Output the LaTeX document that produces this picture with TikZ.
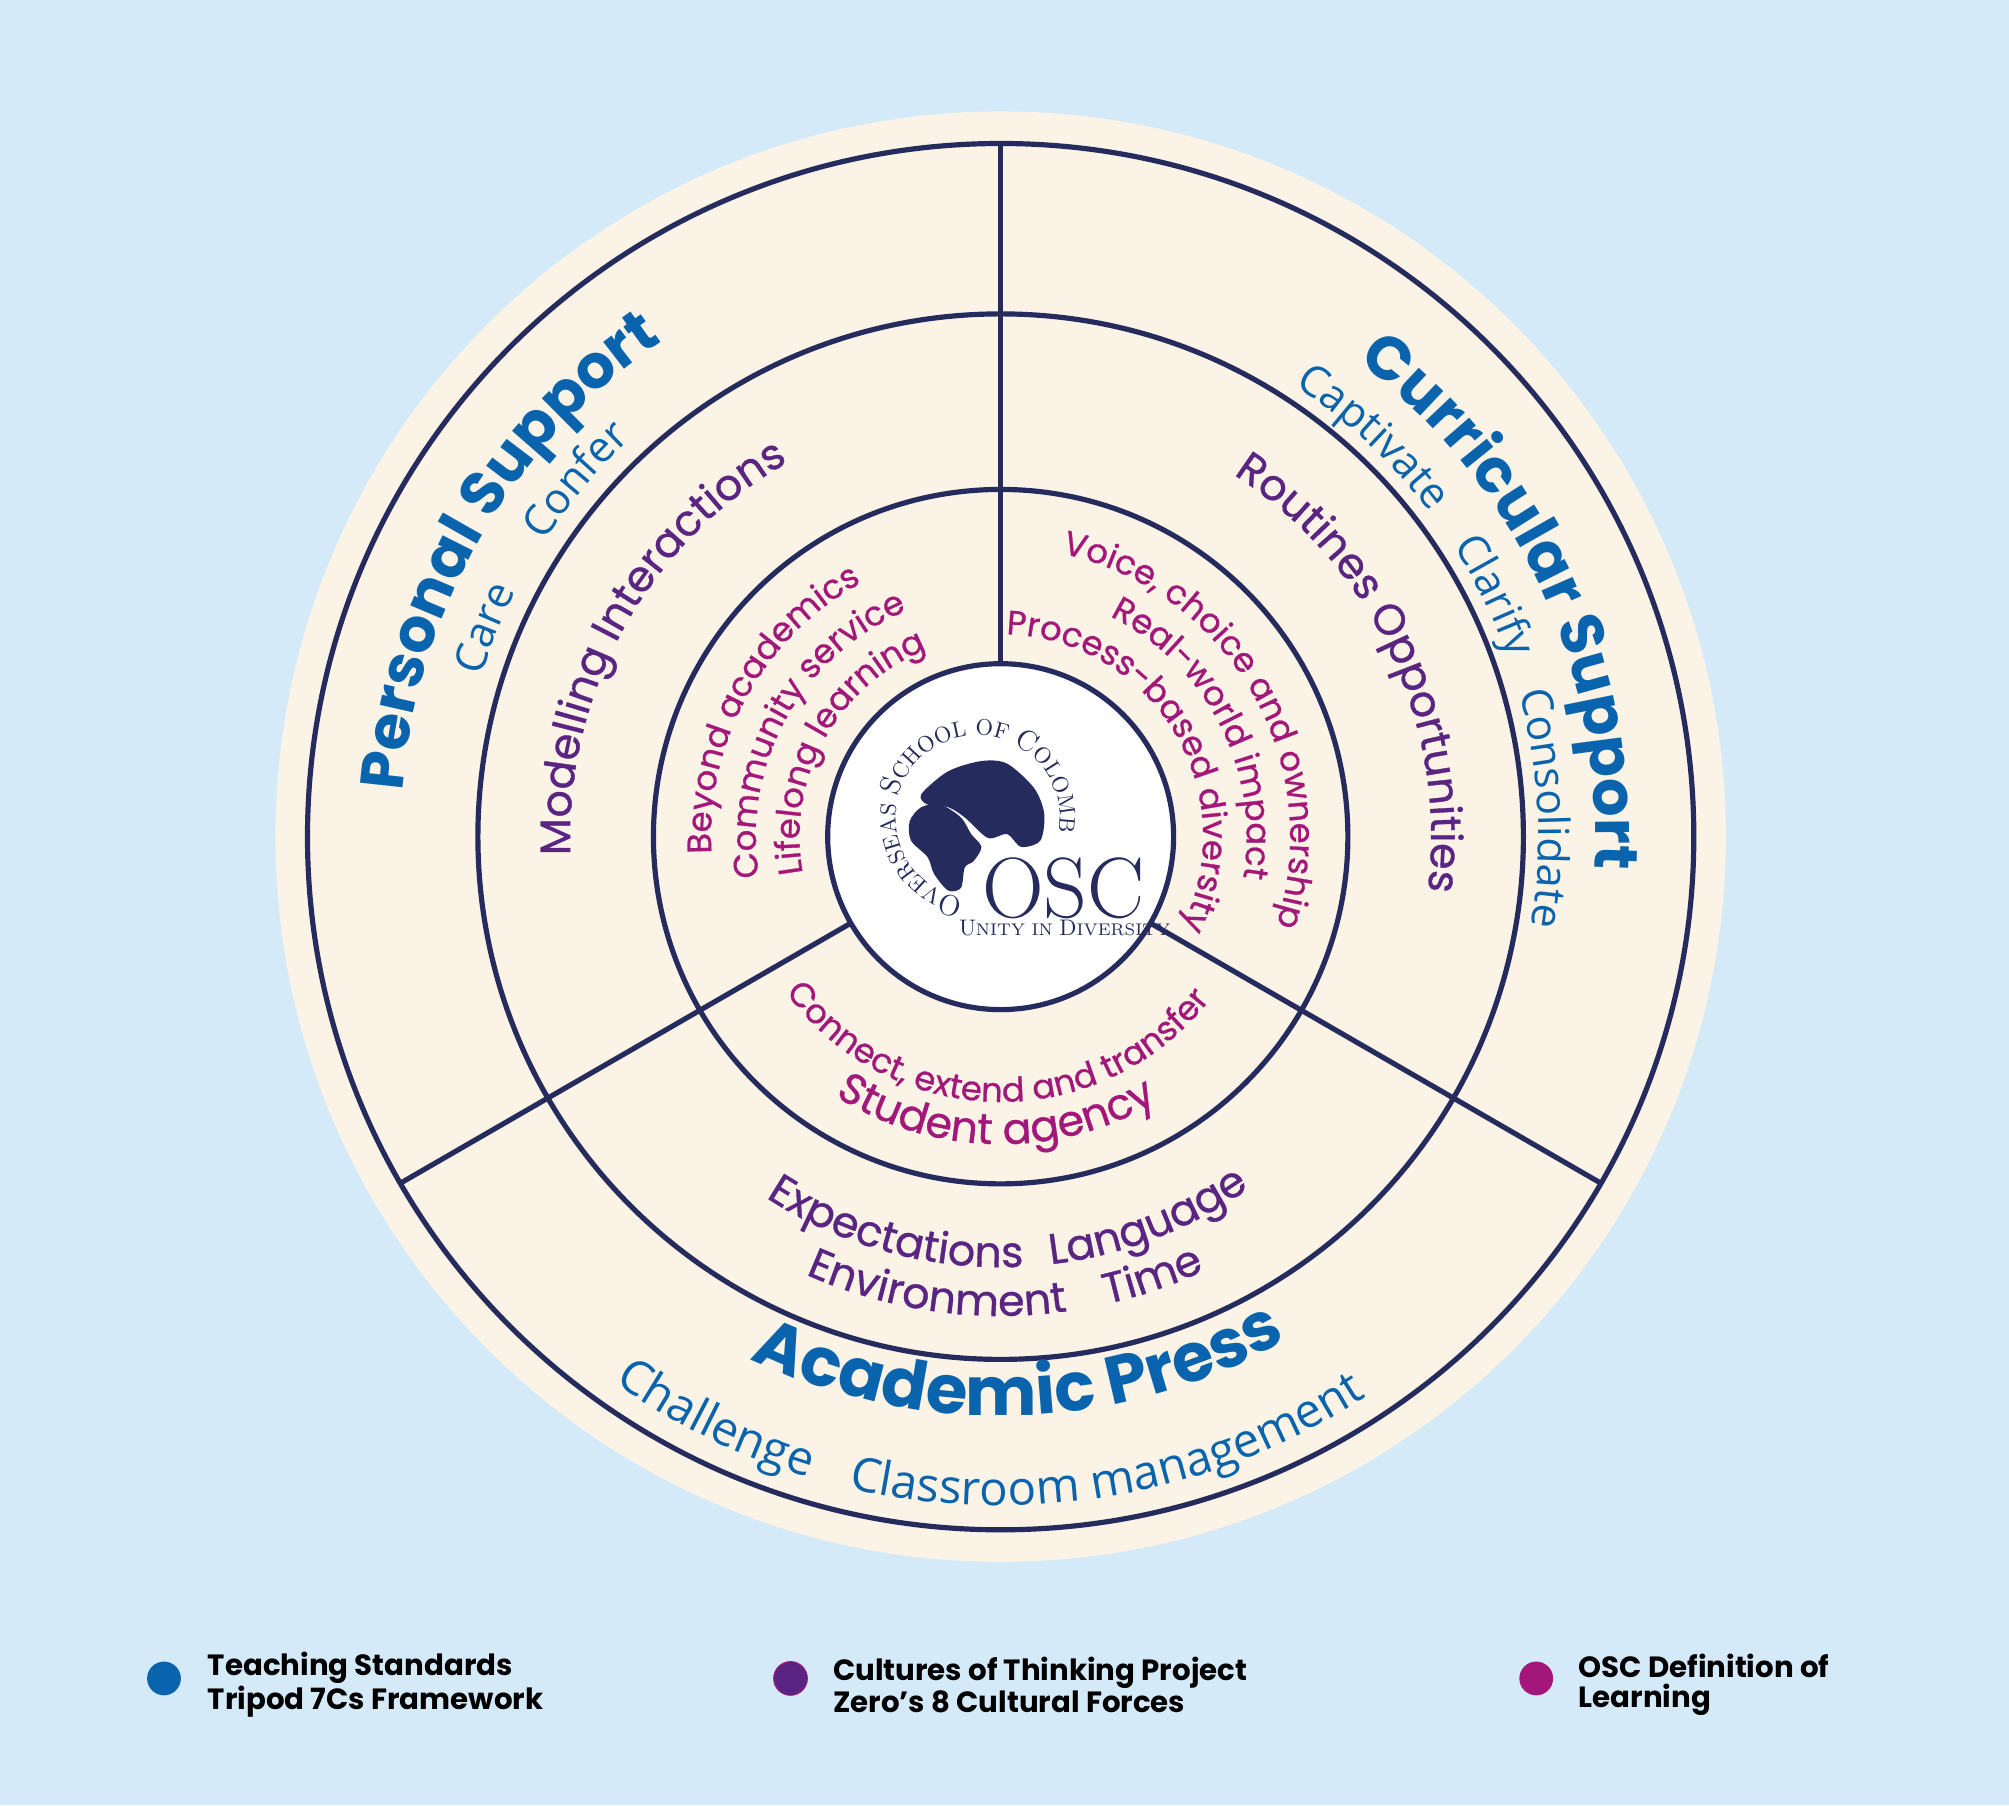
\documentclass[tikz,border=0pt]{standalone}
\usepackage{fontspec}
\setmainfont{Poppins}
\newfontfamily\medium{Poppins}[FakeBold=0.8]
\newfontfamily\opensans{Open Sans}
\newfontfamily\serif{Latin Modern Roman}
\usetikzlibrary{decorations.text}
\definecolor{bgblue}{HTML}{D5EAF9}
\definecolor{cream}{HTML}{FAF3E6}
\definecolor{navy}{HTML}{262B5E}
\definecolor{oscblue}{HTML}{0A64AD}
\definecolor{oscpurple}{HTML}{5A2483}
\definecolor{oscmagenta}{HTML}{A3177A}
\newcommand{\fs}[1]{\fontsize{#1}{#1}\selectfont}
\newcommand{\logocap}{\color{navy}\serif\fs{13}}
\newcommand{\logosm}{\color{navy}\serif\fs{10}}
% text on an arc, tops outward (clockwise): radius, mid angle, half span, format, text
\newcommand{\cwtext}[5]{\path[decorate,decoration={text along path,text align=center,text={|#4|#5}}] ({#2+#3}:#1) arc[start angle={#2+#3},end angle={#2-#3},radius=#1];}
% text on an arc, tops inward (counter clockwise)
\newcommand{\ccwtext}[5]{\path[decorate,decoration={text along path,text align=center,text={|#4|#5}}] ({#2-#3}:#1) arc[start angle={#2-#3},end angle={#2+#3},radius=#1];}
\tikzset{
  ring/.style={draw=navy, line width=2.3pt},
  legdot/.style={circle, minimum size=15pt, inner sep=0pt},
  legtext/.style={anchor=west, align=left, font=\bfseries\fs{13}, text=black}
}

\begin{document}
\begin{tikzpicture}[x=0.02cm, y=0.02cm]
	\fill[bgblue] (-781,-756) rectangle (787,653);
	\fill[cream] (0,0) circle[radius=566];
	% rings and dividers
	\draw[ring] (0,0) circle[radius=541];
	\draw[ring] (0,0) circle[radius=408];
	\draw[ring] (0,0) circle[radius=271];
	\draw[ring, fill=white] (0,0) circle[radius=135];
	\foreach \a in {90,210,330}
		\draw[ring] (\a:135) -- (\a:541);
	% outer ring
	\cwtext{468}{150}{60}{\color{oscblue}\bfseries\fs{27}}{Personal Support}
	\cwtext{424}{158}{12}{\color{oscblue}\opensans\fs{19}}{Care}
	\cwtext{424}{140}{12}{\color{oscblue}\opensans\fs{19}}{Confer}
	\cwtext{464}{25}{60}{\color{oscblue}\bfseries\fs{27}}{Curricular Support}
	\cwtext{420}{47}{16}{\color{oscblue}\opensans\fs{19}}{Captivate}
	\cwtext{420}{26}{12}{\color{oscblue}\opensans\fs{19}}{Clarify}
	\cwtext{420}{3}{16}{\color{oscblue}\opensans\fs{19}}{Consolidate}
	\ccwtext{452}{-88}{40}{\color{oscblue}\bfseries\fs{30}}{Academic Press}
	\ccwtext{522}{-116}{14}{\color{oscblue}\opensans\fs{21}}{Challenge}
	\ccwtext{522}{-80}{30}{\color{oscblue}\opensans\fs{21}}{Classroom management}
	% middle ring
	\cwtext{336}{151}{50}{\color{oscpurple}\medium\fs{19}}{Modelling Interactions}
	\cwtext{336}{25}{50}{\color{oscpurple}\medium\fs{19}}{Routines Opportunities}
	\ccwtext{336}{-105}{25}{\color{oscpurple}\medium\fs{19}}{Expectations}
	\ccwtext{336}{-69}{16}{\color{oscpurple}\medium\fs{19}}{Language}
	\ccwtext{374}{-98}{20}{\color{oscpurple}\medium\fs{19}}{Environment}
	\ccwtext{374}{-71}{9}{\color{oscpurple}\medium\fs{19}}{Time}
	% inner ring
	\cwtext{226}{151}{60}{\color{oscmagenta}\medium\fs{15}}{Beyond academics}
	\cwtext{191}{151}{65}{\color{oscmagenta}\medium\fs{15}}{Community service}
	\cwtext{157}{151}{65}{\color{oscmagenta}\medium\fs{15}}{Lifelong learning}
	\cwtext{226}{30}{65}{\color{oscmagenta}\medium\fs{15}}{Voice, choice and ownership}
	\cwtext{192}{27}{55}{\color{oscmagenta}\medium\fs{15}}{Real-world impact}
	\cwtext{158}{31}{65}{\color{oscmagenta}\medium\fs{15}}{Process-based diversity}
	\ccwtext{207}{-91}{65}{\color{oscmagenta}\medium\fs{15}}{Connect, extend and transfer}
	\ccwtext{240}{-91}{40}{\color{oscmagenta}\medium\fs{19}}{Student agency}
	% logo
	\begin{scope}[shift={(-18,15)}]
		\fill[navy] plot[smooth cycle] coordinates {(-53,-3) (-44,8) (-29,10) (-13,0) (-5,-13) (3,-23) (-3,-34) (-10,-39) (-13,-55) (-23,-57) (-34,-44) (-39,-31) (-52,-18)};
		\fill[navy] plot[smooth cycle] coordinates {(-44,18) (-23,36) (3,44) (23,42) (44,23) (52,3) (49,-18) (34,-23) (23,-13) (8,-16) (-10,0) (-23,8) (-39,10)};
		\cwtext{64}{119}{128}{\logocap}{O|\logosm|VERSEAS |\logocap|S|\logosm|CHOOL OF |\logocap|C|\logosm|OLOMBO}
	\end{scope}
	\node (osc) at (49,-40) {\color{navy}\serif\fs{38}OSC};
	\node (unity) at (50,-71) {\color{navy}\serif\fs{10}U\fs{7.5}NITY IN \fs{10}D\fs{7.5}IVERSITY};
	% legend
	\node (dot1)[legdot, fill=oscblue] at (-653,-657) {};
	\node (leg1)[legtext] at (-625,-662) {Teaching Standards\\Tripod 7Cs Framework};
	\node (dot2)[legdot, fill=oscpurple, draw=oscmagenta] at (-164,-657) {};
	\node (leg2)[legtext] at (-137,-662) {Cultures of Thinking Project\\Zero’s 8 Cultural Forces};
	\node (dot3)[legdot, fill=oscmagenta] at (418,-657) {};
	\node (leg3)[legtext] at (445,-662) {OSC Definition of\\Learning};
\end{tikzpicture}
\end{document}
